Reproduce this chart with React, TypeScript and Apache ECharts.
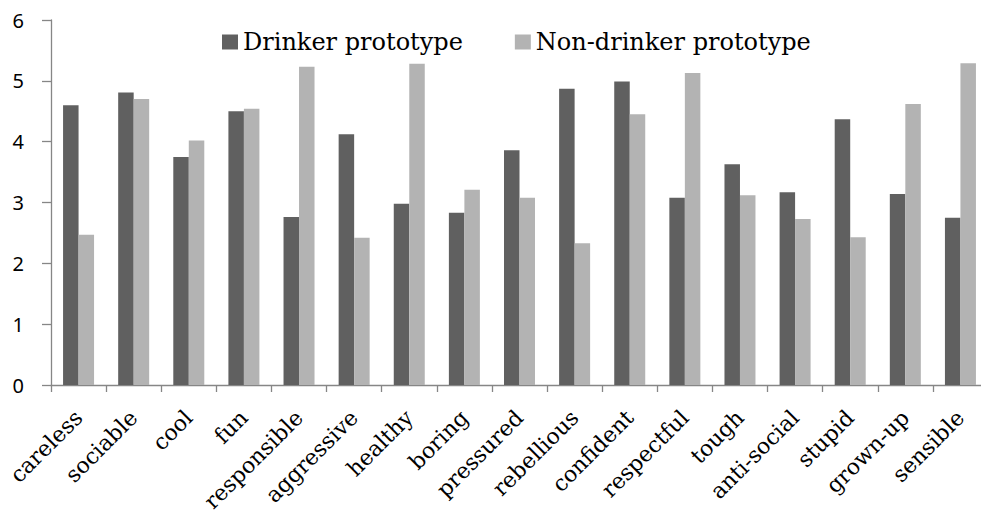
import React, { useEffect, useRef } from "react";
import * as echarts from "echarts";

const categories = [
  "careless", "sociable", "cool", "fun", "responsible", "aggressive", "healthy", "boring",
  "pressured", "rebellious", "confident", "respectful", "tough", "anti-social", "stupid",
  "grown-up", "sensible",
];
const drinker = [4.6, 4.81, 3.75, 4.5, 2.76, 4.12, 2.98, 2.83, 3.86, 4.87, 4.99, 3.08, 3.63, 3.17, 4.37, 3.14, 2.75];
const nonDrinker = [2.47, 4.7, 4.02, 4.54, 5.23, 2.42, 5.28, 3.21, 3.08, 2.33, 4.45, 5.13, 3.12, 2.73, 2.43, 4.62, 5.29];
const yTicks = { min: 0, max: 6, interval: 1 };

export default function App() {
  const ref = useRef<HTMLDivElement>(null);
  useEffect(() => {
    if (!ref.current) return;
    const chart = echarts.init(ref.current, undefined, { renderer: "svg" });
    const serif = "DejaVu Serif";
    chart.setOption({
      animation: false,
      backgroundColor: "#ffffff",
      grid: {
        left: 51,
        top: 20,
        height: 365,
        width: 937,
        containLabel: false,
        outerBoundsMode: "none",
      },
      legend: {
        left: 217,
        top: 25,
        itemWidth: 16,
        itemHeight: 15,
        itemGap: 52,
        icon: "rect",
        textStyle: { fontFamily: serif, fontSize: 24, color: "#000" },
        data: ["Drinker prototype", "Non-drinker prototype"],
      },
      xAxis: {
        type: "category",
        data: categories,
        axisLine: { lineStyle: { color: "#868686", width: 1.3 } },
        axisTick: { show: true, length: 7, lineStyle: { color: "#868686", width: 1.3 } },
        axisLabel: {
          rotate: 45,
          interval: 0,
          margin: 29,
          fontFamily: serif,
          fontSize: 22,
          color: "#000",
        },
      },
      yAxis: {
        type: "value",
        min: yTicks.min,
        max: yTicks.max,
        interval: yTicks.interval,
        splitLine: { show: false },
        axisLine: { show: true, lineStyle: { color: "#868686", width: 1.3 } },
        axisTick: { show: true, length: 9, lineStyle: { color: "#868686", width: 1.3 } },
        axisLabel: { fontFamily: "Noto Sans", fontSize: 20, color: "#000", margin: 27 },
      },
      series: [
        {
          name: "Drinker prototype",
          type: "bar",
          data: drinker,
          barWidth: 15.5,
          barGap: "0%",
          itemStyle: { color: "#606060" },
        },
        {
          name: "Non-drinker prototype",
          type: "bar",
          data: nonDrinker,
          barWidth: 15.5,
          barGap: "0%",
          itemStyle: { color: "#b3b3b3" },
        },
      ],
    });
    return () => chart.dispose();
  }, []);
  return (
    <div
      ref={ref}
      style={{ position: "absolute", left: 0, top: 0, width: 981, height: 513 }}
    />
  );
}
